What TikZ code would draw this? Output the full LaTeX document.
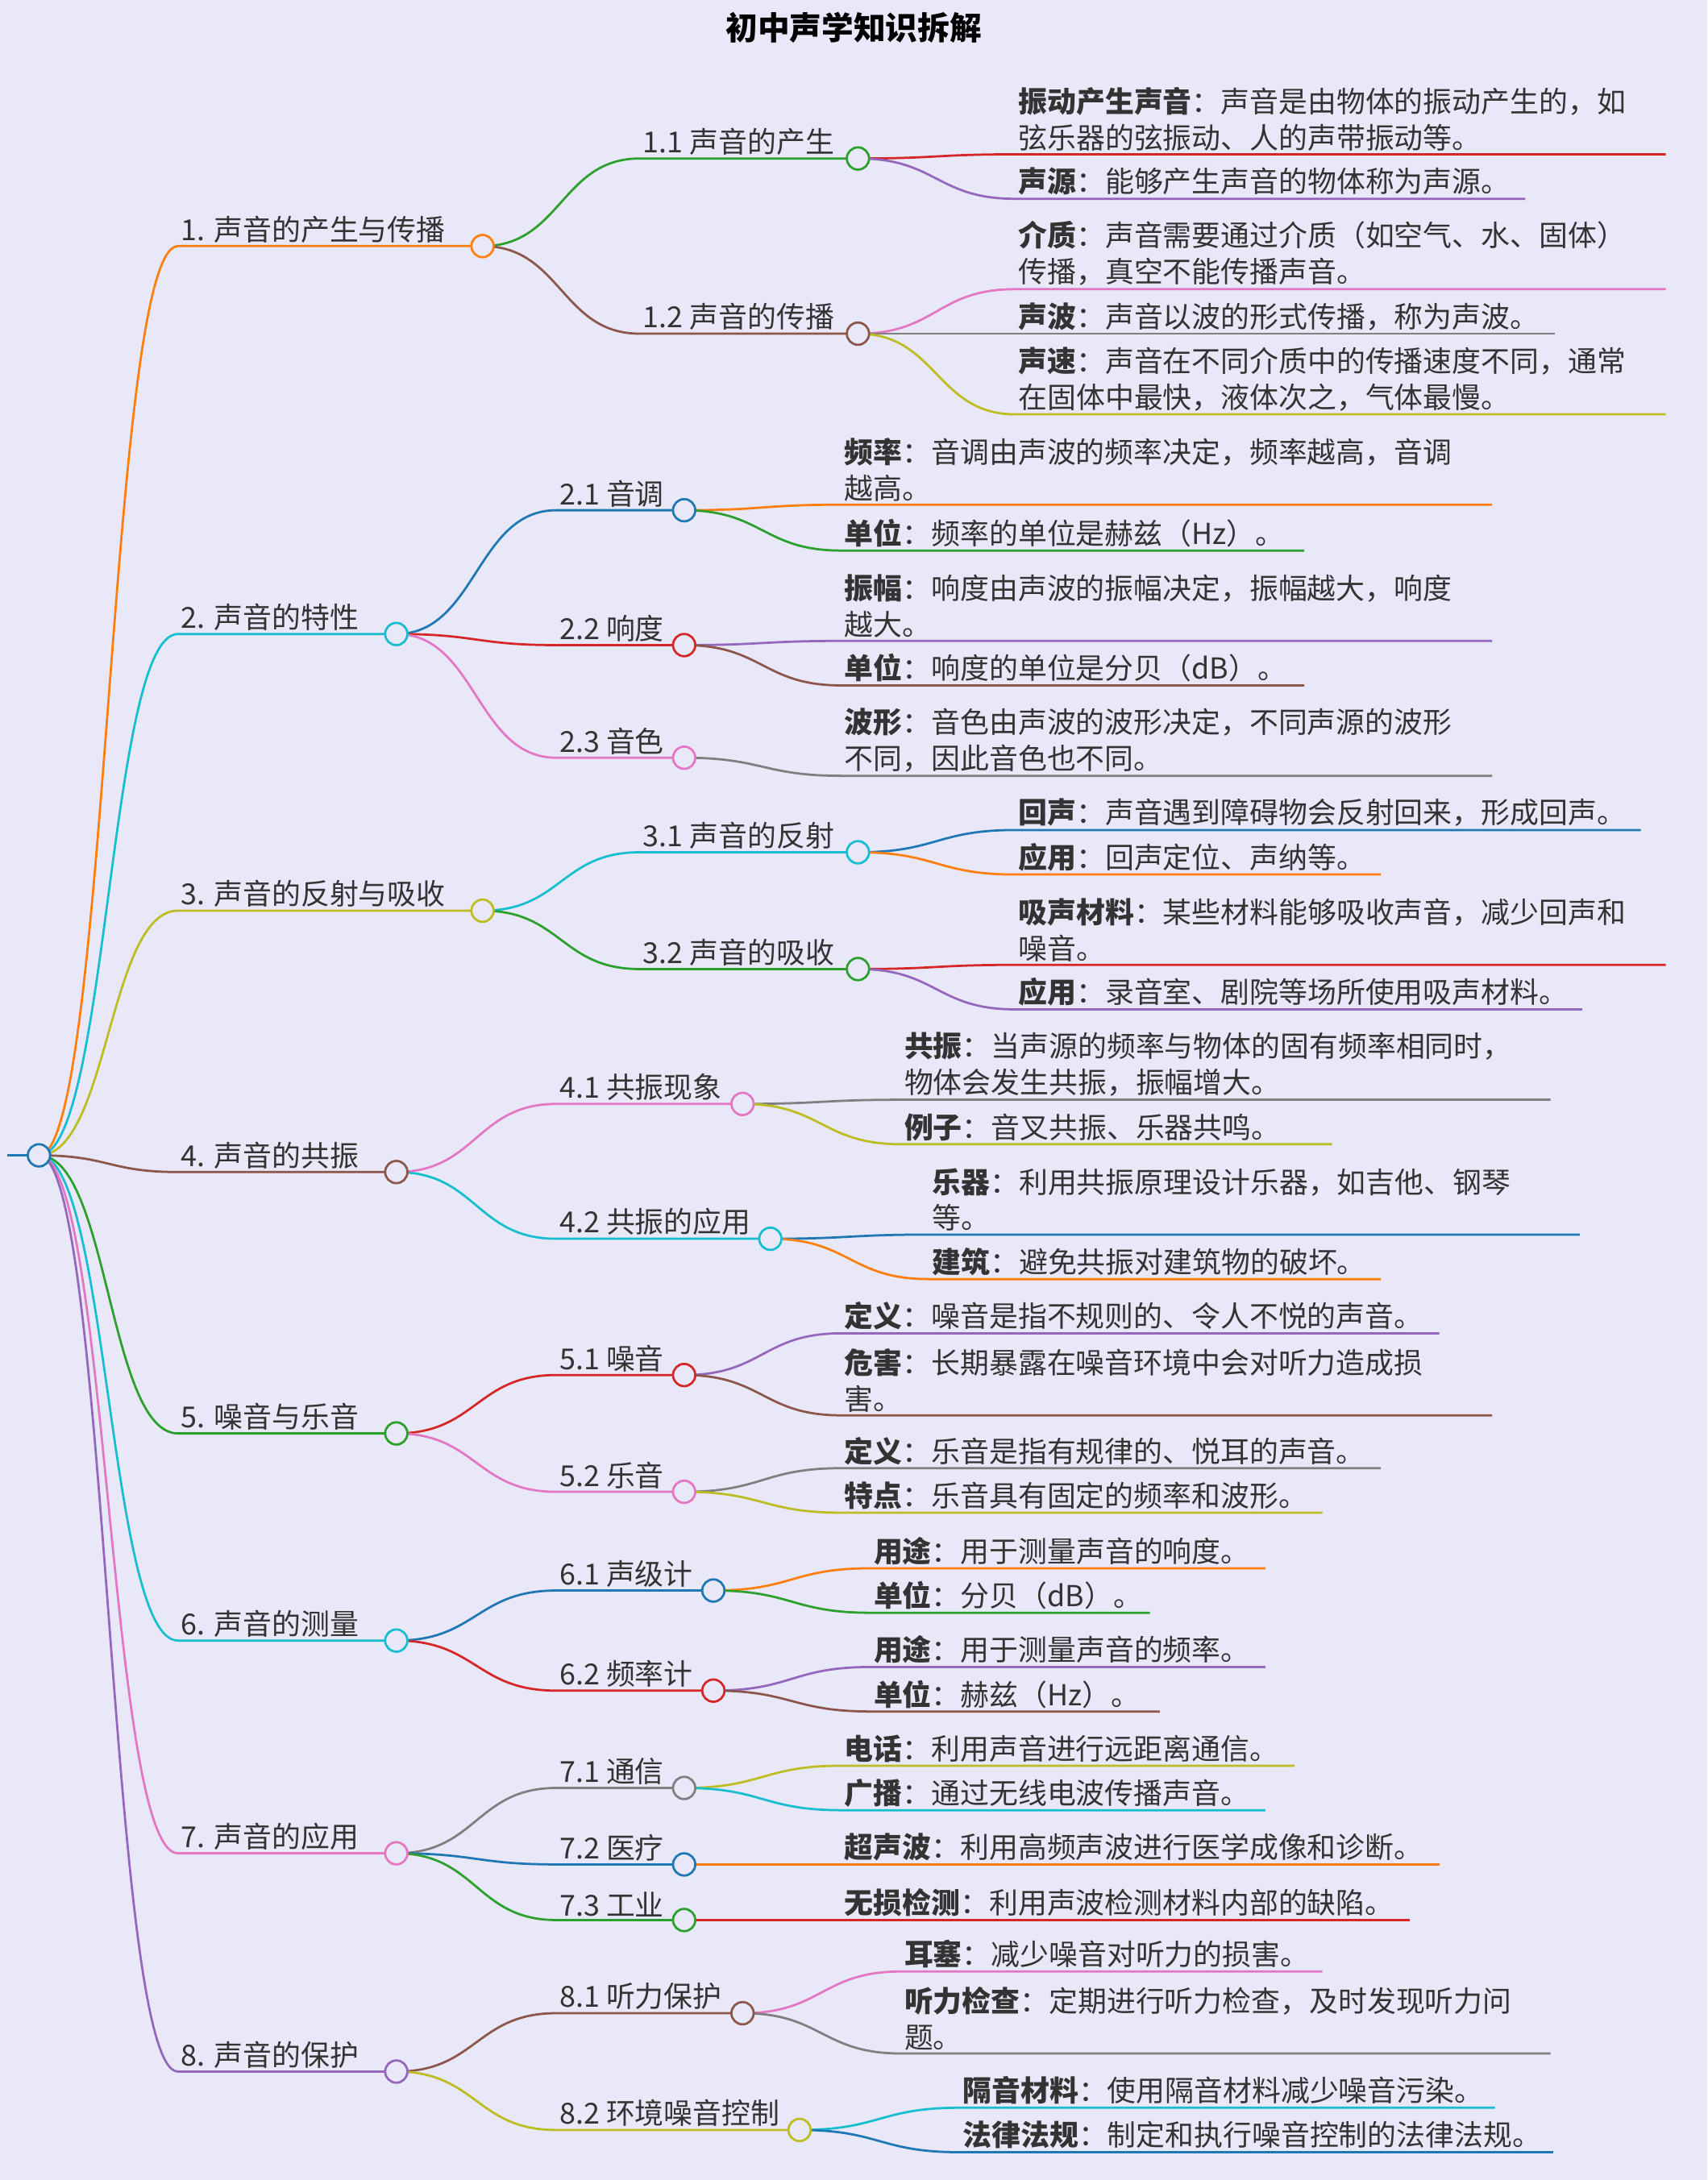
\documentclass[tikz,border=0pt]{standalone}
\usepackage{fontspec}
\setmainfont{Noto Sans CJK SC}
\usetikzlibrary{calc,positioning}
\definecolor{bgc}{HTML}{E8E8F8}
\definecolor{cblue}{HTML}{1F77B4}
\definecolor{corange}{HTML}{FF7F0E}
\definecolor{cgreen}{HTML}{2CA02C}
\definecolor{cred}{HTML}{D62728}
\definecolor{cpurple}{HTML}{9467BD}
\definecolor{cbrown}{HTML}{8C564B}
\definecolor{cpink}{HTML}{E377C2}
\definecolor{cgray}{HTML}{7F7F7F}
\definecolor{colive}{HTML}{BCBD22}
\definecolor{ccyan}{HTML}{17BECF}
\pgfdeclarelayer{back}
\pgfdeclarelayer{lines}
\pgfsetlayers{back,lines,main}
\tikzset{
    x=0.5pt, y=-0.5pt,
    dot/.style = { circle, fill=bgc, line width=0.8pt,
        minimum size=8pt, inner sep=0pt },
    link/.style = { line width=0.8pt },
    lab/.style = { anchor=south west, inner sep=1pt, align=left,
        text=black!80, font=\fontsize{10.4}{13}\selectfont }
}
% topic: parent, name, x start, y, x end, colour, text
\newcommand{\topic}[7]{%
    \node[dot, draw=#6] (#2) at (#5,#4) {};
    \coordinate (#2s) at (#3,#4);
    \coordinate (#2m) at ($(#1.center)!0.5!(#2s)$);
    \begin{pgfonlayer}{lines}
    \draw[link, #6] (#1.center) .. controls (#2m |- #1.center) and (#2m |- #2s) .. (#2s) -- (#2.center);
    \end{pgfonlayer}
    \node[lab] (#2t) at (#2s) {#7};
}
% leaf: parent, name, x start, y, x end, colour, bold, text
\newcommand{\leaf}[8]{%
    \coordinate (#2s) at (#3,#4);
    \coordinate (#2e) at (#5,#4);
    \coordinate (#2m) at ($(#1.center)!0.5!(#2s)$);
    \begin{pgfonlayer}{lines}
    \draw[link, #6] (#1.center) .. controls (#2m |- #1.center) and (#2m |- #2s) .. (#2s) -- (#2e);
    \end{pgfonlayer}
    \node[lab] (#2t) at (#2s) {\textbf{#7}：#8};
}
\begin{document}
\begin{tikzpicture}
    \begin{pgfonlayer}{back}
    \fill[bgc] (0,0) rectangle (1228,1568);
    \end{pgfonlayer}
    \useasboundingbox (0,0) rectangle (1228,1568);
    \node[font=\bfseries\fontsize{11.5}{14}\selectfont] (title) at (614,20) {初中声学知识拆解};

    \node[dot, draw=cblue] (root) at (28,831) {};
    \coordinate (rootl) at (5,831);
    \begin{pgfonlayer}{lines}
    \draw[link, cblue] (rootl) -- (root.center);
    \end{pgfonlayer}

    % 1
    \topic{root}{b1}{128}{177}{347}{corange}{1. 声音的产生与传播}
    \topic{b1}{b11}{460}{114}{617}{cgreen}{1.1 声音的产生}
    \leaf{b11}{b111}{730}{111}{1198}{cred}{振动产生声音}{声音是由物体的振动产生的，如\\弦乐器的弦振动、人的声带振动等。}
    \leaf{b11}{b112}{730}{143}{1097}{cpurple}{声源}{能够产生声音的物体称为声源。}
    \topic{b1}{b12}{460}{240}{617}{cbrown}{1.2 声音的传播}
    \leaf{b12}{b121}{730}{208}{1198}{cpink}{介质}{声音需要通过介质（如空气、水、固体）\\传播，真空不能传播声音。}
    \leaf{b12}{b122}{730}{240}{1118}{cgray}{声波}{声音以波的形式传播，称为声波。}
    \leaf{b12}{b123}{730}{298}{1198}{colive}{声速}{声音在不同介质中的传播速度不同，通常\\在固体中最快，液体次之，气体最慢。}
    % 2
    \topic{root}{b2}{128}{456}{285}{ccyan}{2. 声音的特性}
    \topic{b2}{b21}{400}{367}{492}{cblue}{2.1 音调}
    \leaf{b21}{b211}{605}{363}{1073}{corange}{频率}{音调由声波的频率决定，频率越高，音调\\越高。}
    \leaf{b21}{b212}{605}{396}{938}{cgreen}{单位}{频率的单位是赫兹（Hz）。}
    \topic{b2}{b22}{400}{464}{492}{cred}{2.2 响度}
    \leaf{b22}{b221}{605}{461}{1073}{cpurple}{振幅}{响度由声波的振幅决定，振幅越大，响度\\越大。}
    \leaf{b22}{b222}{605}{493}{938}{cbrown}{单位}{响度的单位是分贝（dB）。}
    \topic{b2}{b23}{400}{545}{492}{cpink}{2.3 音色}
    \leaf{b23}{b231}{605}{558}{1073}{cgray}{波形}{音色由声波的波形决定，不同声源的波形\\不同，因此音色也不同。}
    % 3
    \topic{root}{b3}{128}{655}{347}{colive}{3. 声音的反射与吸收}
    \topic{b3}{b31}{460}{613}{617}{ccyan}{3.1 声音的反射}
    \leaf{b31}{b311}{730}{597}{1180}{cblue}{回声}{声音遇到障碍物会反射回来，形成回声。}
    \leaf{b31}{b312}{730}{629}{993}{corange}{应用}{回声定位、声纳等。}
    \topic{b3}{b32}{460}{697}{617}{cgreen}{3.2 声音的吸收}
    \leaf{b32}{b321}{730}{694}{1198}{cred}{吸声材料}{某些材料能够吸收声音，减少回声和\\噪音。}
    \leaf{b32}{b322}{730}{726}{1138}{cpurple}{应用}{录音室、剧院等场所使用吸声材料。}
    % 4
    \topic{root}{b4}{128}{843}{285}{cbrown}{4. 声音的共振}
    \topic{b4}{b41}{400}{794}{534}{cpink}{4.1 共振现象}
    \leaf{b41}{b411}{648}{791}{1115}{cgray}{共振}{当声源的频率与物体的固有频率相同时，\\物体会发生共振，振幅增大。}
    \leaf{b41}{b412}{648}{823}{958}{colive}{例子}{音叉共振、乐器共鸣。}
    \topic{b4}{b42}{400}{891}{554}{ccyan}{4.2 共振的应用}
    \leaf{b42}{b421}{668}{888}{1136}{cblue}{乐器}{利用共振原理设计乐器，如吉他、钢琴\\等。}
    \leaf{b42}{b422}{668}{920}{993}{corange}{建筑}{避免共振对建筑物的破坏。}
    % 5
    \topic{root}{b5}{128}{1031}{285}{cgreen}{5. 噪音与乐音}
    \topic{b5}{b51}{400}{989}{492}{cred}{5.1 噪音}
    \leaf{b51}{b511}{605}{959}{1035}{cpurple}{定义}{噪音是指不规则的、令人不悦的声音。}
    \leaf{b51}{b512}{605}{1018}{1073}{cbrown}{危害}{长期暴露在噪音环境中会对听力造成损\\害。}
    \topic{b5}{b52}{400}{1073}{492}{cpink}{5.2 乐音}
    \leaf{b52}{b521}{605}{1056}{993}{cgray}{定义}{乐音是指有规律的、悦耳的声音。}
    \leaf{b52}{b522}{605}{1088}{951}{colive}{特点}{乐音具有固定的频率和波形。}
    % 6
    \topic{root}{b6}{128}{1180}{285}{ccyan}{6. 声音的测量}
    \topic{b6}{b61}{400}{1144}{513}{cblue}{6.1 声级计}
    \leaf{b61}{b611}{626}{1128}{910}{corange}{用途}{用于测量声音的响度。}
    \leaf{b61}{b612}{626}{1160}{827}{cgreen}{单位}{分贝（dB）。}
    \topic{b6}{b62}{400}{1216}{513}{cred}{6.2 频率计}
    \leaf{b62}{b621}{626}{1199}{910}{cpurple}{用途}{用于测量声音的频率。}
    \leaf{b62}{b622}{626}{1231}{834}{cbrown}{单位}{赫兹（Hz）。}
    % 7
    \topic{root}{b7}{128}{1333}{285}{cpink}{7. 声音的应用}
    \topic{b7}{b71}{400}{1286}{492}{cgray}{7.1 通信}
    \leaf{b71}{b711}{605}{1270}{931}{colive}{电话}{利用声音进行远距离通信。}
    \leaf{b71}{b712}{605}{1302}{910}{ccyan}{广播}{通过无线电波传播声音。}
    \topic{b7}{b72}{400}{1341}{492}{cblue}{7.2 医疗}
    \leaf{b72}{b721}{605}{1341}{1035}{corange}{超声波}{利用高频声波进行医学成像和诊断。}
    \topic{b7}{b73}{400}{1381}{492}{cgreen}{7.3 工业}
    \leaf{b73}{b731}{605}{1381}{1014}{cred}{无损检测}{利用声波检测材料内部的缺陷。}
    % 8
    \topic{root}{b8}{128}{1490}{285}{cpurple}{8. 声音的保护}
    \topic{b8}{b81}{400}{1448}{534}{cbrown}{8.1 听力保护}
    \leaf{b81}{b811}{648}{1418}{951}{cpink}{耳塞}{减少噪音对听力的损害。}
    \leaf{b81}{b812}{648}{1477}{1115}{cgray}{听力检查}{定期进行听力检查，及时发现听力问\\题。}
    \topic{b8}{b82}{400}{1532}{575}{colive}{8.2 环境噪音控制}
    \leaf{b82}{b821}{690}{1516}{1075}{ccyan}{隔音材料}{使用隔音材料减少噪音污染。}
    \leaf{b82}{b822}{690}{1548}{1117}{cblue}{法律法规}{制定和执行噪音控制的法律法规。}
\end{tikzpicture}
\end{document}
